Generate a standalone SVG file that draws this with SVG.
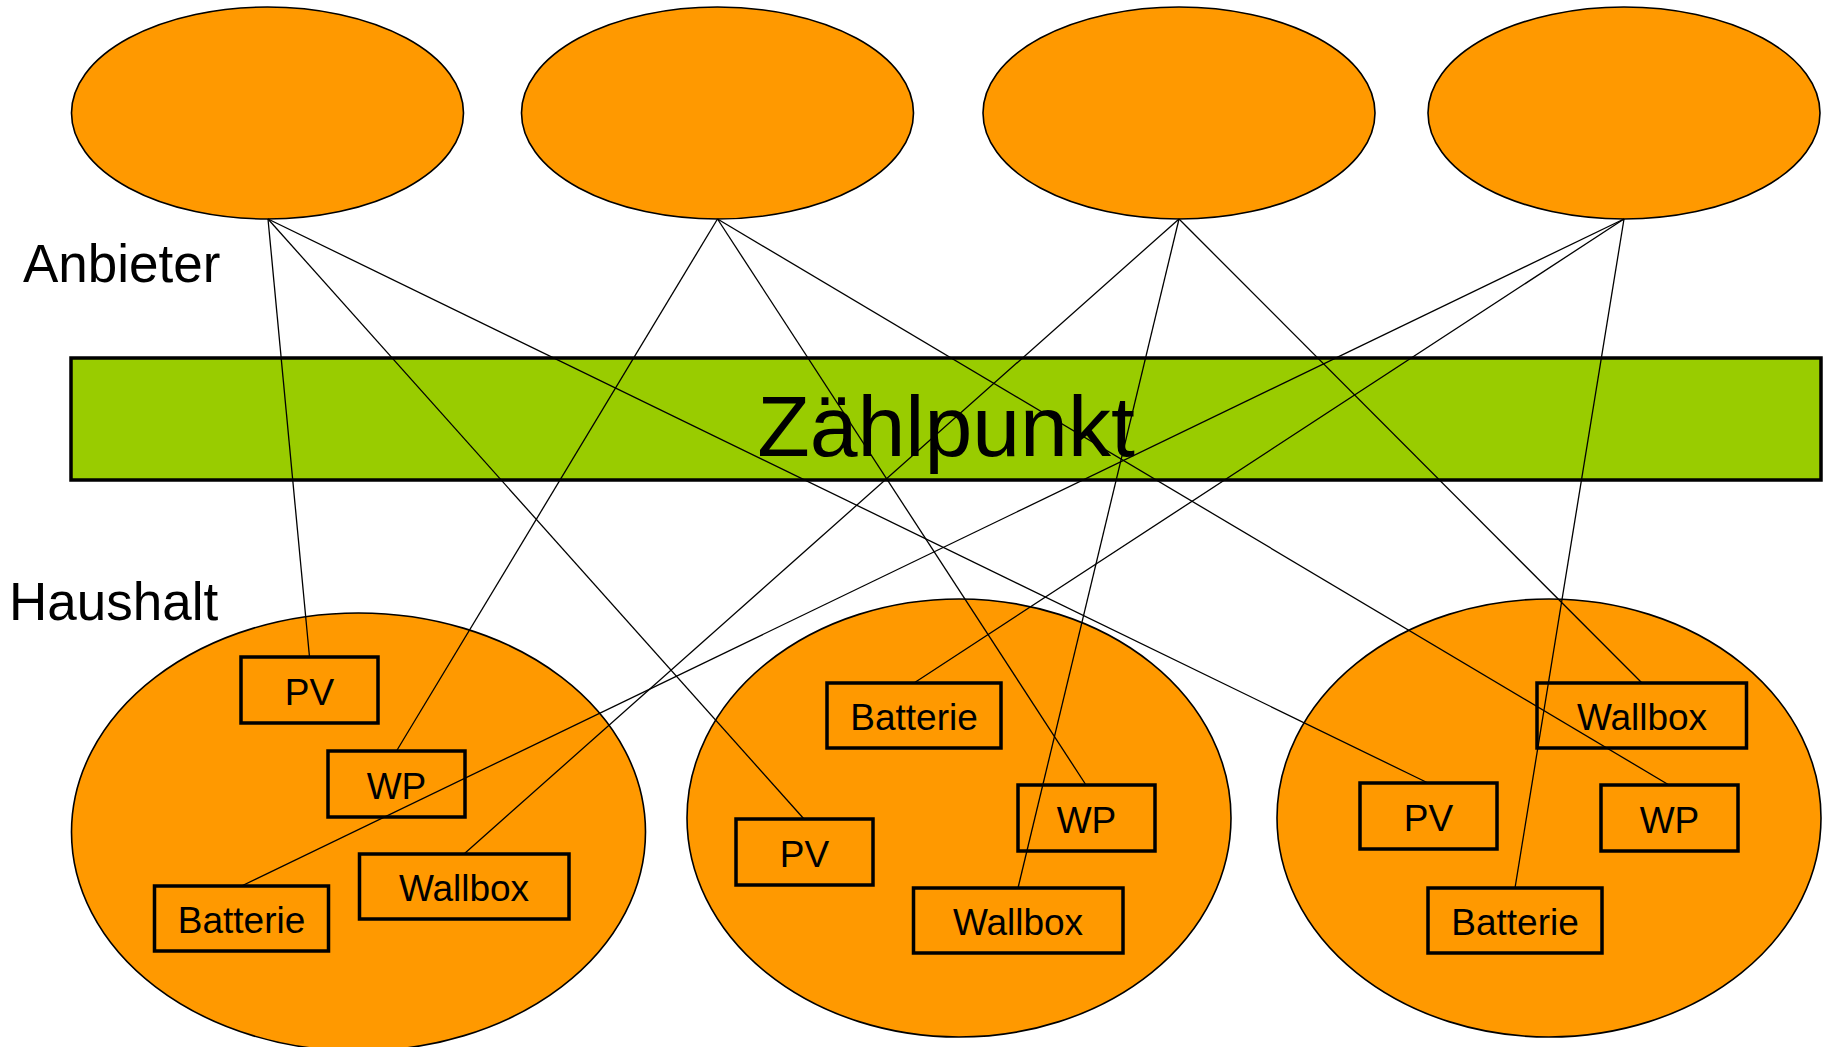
<svg xmlns="http://www.w3.org/2000/svg" width="1836" height="1047" viewBox="0 0 1836 1047">
<style>
.prov{fill:#ff9900;stroke:#000;stroke-width:1.6}
.hh{fill:#ff9900;stroke:#000;stroke-width:1.6}
.box{fill:none;stroke:#000;stroke-width:3.5}
.bt{font-family:"Liberation Sans",Arial,sans-serif;font-size:37px;text-anchor:middle;fill:#000}
.lbl{font-family:"Liberation Sans",Arial,sans-serif;font-size:53px;fill:#000}
.con line{stroke:#000;stroke-width:1.3}
</style>
<rect x="0" y="0" width="1836" height="1047" fill="#fff"/>
<g id="anbieter1"><ellipse class="prov" cx="267.5" cy="113" rx="196" ry="106"/></g>
<g id="anbieter2"><ellipse class="prov" cx="717.5" cy="113" rx="196" ry="106"/></g>
<g id="anbieter3"><ellipse class="prov" cx="1179" cy="113" rx="196" ry="106"/></g>
<g id="anbieter4"><ellipse class="prov" cx="1624" cy="113" rx="196" ry="106"/></g>
<g id="label-anbieter"><text class="lbl" x="23" y="282">Anbieter</text></g>
<g id="zaehlpunkt">
<rect x="71" y="358" width="1750" height="122" fill="#99cc00" stroke="#000" stroke-width="3.5"/>
<text x="946" y="456" font-family="'Liberation Sans',Arial,sans-serif" font-size="86" text-anchor="middle">Zählpunkt</text>
</g>
<g id="label-haushalt"><text class="lbl" x="9" y="620">Haushalt</text></g>
<g id="haushalt1">
<ellipse class="hh" cx="358.5" cy="832" rx="287" ry="219"/>
<g id="pv1"><rect class="box" x="241" y="657" width="137" height="66"/><text class="bt" x="309.5" y="705">PV</text></g>
<g id="wp1"><rect class="box" x="328" y="751" width="137" height="66"/><text class="bt" x="396.5" y="799">WP</text></g>
<g id="batterie1"><rect class="box" x="154.5" y="886" width="174" height="65"/><text class="bt" x="241.5" y="933">Batterie</text></g>
<g id="wallbox1"><rect class="box" x="359.5" y="854" width="209.5" height="65"/><text class="bt" x="464" y="901">Wallbox</text></g>
</g>
<g id="haushalt2">
<ellipse class="hh" cx="959" cy="818" rx="272" ry="219"/>
<g id="batterie2"><rect class="box" x="827" y="683" width="174" height="65"/><text class="bt" x="914" y="730">Batterie</text></g>
<g id="pv2"><rect class="box" x="736" y="819" width="137" height="66"/><text class="bt" x="804.5" y="867">PV</text></g>
<g id="wp2"><rect class="box" x="1018" y="785" width="137" height="66"/><text class="bt" x="1086.5" y="833">WP</text></g>
<g id="wallbox2"><rect class="box" x="913.5" y="888" width="209.5" height="65"/><text class="bt" x="1018" y="935">Wallbox</text></g>
</g>
<g id="haushalt3">
<ellipse class="hh" cx="1549" cy="818" rx="272" ry="219"/>
<g id="wallbox3"><rect class="box" x="1537" y="683" width="209.5" height="65"/><text class="bt" x="1642" y="730">Wallbox</text></g>
<g id="pv3"><rect class="box" x="1360" y="783" width="137" height="66"/><text class="bt" x="1428.5" y="831">PV</text></g>
<g id="wp3"><rect class="box" x="1601" y="785" width="137" height="66"/><text class="bt" x="1669.5" y="833">WP</text></g>
<g id="batterie3"><rect class="box" x="1428" y="888" width="174" height="65"/><text class="bt" x="1515" y="935">Batterie</text></g>
</g>
<g id="connectors" class="con">
<line x1="268" y1="219" x2="309.5" y2="657"/>
<line x1="268" y1="219" x2="804" y2="819"/>
<line x1="268" y1="219" x2="1428" y2="783"/>
<line x1="717.5" y1="219" x2="396.5" y2="751"/>
<line x1="717.5" y1="219" x2="1086" y2="785"/>
<line x1="717.5" y1="219" x2="1669" y2="785"/>
<line x1="1179" y1="219" x2="464" y2="854"/>
<line x1="1179" y1="219" x2="1018" y2="888"/>
<line x1="1179" y1="219" x2="1642" y2="683"/>
<line x1="1624" y1="219" x2="241.5" y2="886"/>
<line x1="1624" y1="219" x2="914" y2="683"/>
<line x1="1624" y1="219" x2="1515" y2="888"/>
</g>
</svg>
